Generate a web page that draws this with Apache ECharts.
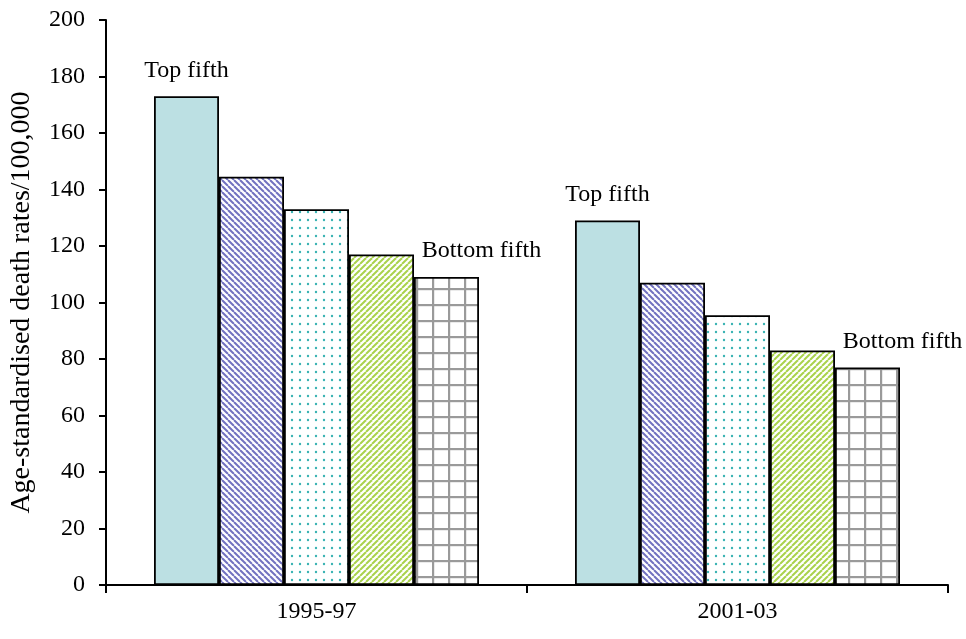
<!DOCTYPE html>
<html>
<head>
<meta charset="utf-8">
<title>Age-standardised death rates by fifth</title>
<script src="https://cdn.jsdelivr.net/npm/echarts@6/dist/echarts.min.js"></script>
<style>
  html, body { margin: 0; padding: 0; background: #ffffff; }
  #chart { width: 966px; height: 639px; }
</style>
</head>
<body>
<div id="chart"></div>
<script>
// Periods on the category axis
const periods = ['1995-97', '2001-03'];

// Death rates per 100,000 for each fifth, one array per fifth
const topFifth    = [173, 129];
const secondFifth = [144.5, 107];
const thirdFifth  = [133, 95.5];
const fourthFifth = [117, 83];
const bottomFifth = [109, 77];

// Value-axis ticks
const yTicks = [0, 20, 40, 60, 80, 100, 120, 140, 160, 180, 200];

const FONT = '"Liberation Serif", "Times New Roman", serif';

// Small tiled canvases used as bar fills
function makeTile(w, h, draw) {
  const c = document.createElement('canvas');
  c.width = w; c.height = h;
  const ctx = c.getContext('2d');
  ctx.fillStyle = '#ffffff';
  ctx.fillRect(0, 0, w, h);
  draw(ctx, w, h);
  return { image: c, repeat: 'repeat' };
}

// Back-slash stripes (top-left to bottom-right)
function backStripes(color, period, lw) {
  return makeTile(period, period, (ctx, w, h) => {
    ctx.strokeStyle = color; ctx.lineWidth = lw;
    for (let k = -1; k <= 1; k++) {
      ctx.beginPath();
      ctx.moveTo(k * w, 0); ctx.lineTo(k * w + w, h);
      ctx.stroke();
    }
  });
}

// Forward-slash stripes (bottom-left to top-right)
function forwardStripes(color, period, lw) {
  return makeTile(period, period, (ctx, w, h) => {
    ctx.strokeStyle = color; ctx.lineWidth = lw;
    for (let k = -1; k <= 1; k++) {
      ctx.beginPath();
      ctx.moveTo(k * w, h); ctx.lineTo(k * w + w, 0);
      ctx.stroke();
    }
  });
}

function dots(color, step, r) {
  return makeTile(step, step, (ctx, w, h) => {
    ctx.fillStyle = color;
    ctx.beginPath();
    ctx.arc(w / 2, h / 2, r, 0, Math.PI * 2);
    ctx.fill();
  });
}

function gridTile(color, step, lw) {
  return makeTile(step, step, (ctx, w, h) => {
    ctx.fillStyle = color;
    ctx.fillRect(0, 0, lw, h);
    ctx.fillRect(0, 0, w, lw);
  });
}

const fills = [
  '#bce0e3',
  backStripes('#7272c0', 6, 2),
  dots('#3ab3b3', 8, 1.2),
  forwardStripes('#a9d24c', 6, 2),
  gridTile('#9a9a9a', 16, 2.2)
];

const seriesData = [topFifth, secondFifth, thirdFifth, fourthFifth, bottomFifth];
const seriesNames = ['Top fifth', 'Second fifth', 'Third fifth', 'Fourth fifth', 'Bottom fifth'];

const chart = echarts.init(document.getElementById('chart'), null, { renderer: 'canvas' });

const series = seriesData.map((vals, i) => {
  const s = {
    name: seriesNames[i],
    type: 'bar',
    data: vals,
    barWidth: 65,
    barGap: '0%',
    itemStyle: {
      color: fills[i],
      borderColor: '#000000',
      borderWidth: 1.8
    },
    emphasis: { disabled: true },
    label: { show: false }
  };
  if (i === 0) {
    s.label = {
      show: true, position: 'top', distance: 14,
      formatter: () => 'Top fifth',
      fontFamily: FONT, fontSize: 24, color: '#000000'
    };
  }
  if (i === seriesData.length - 1) {
    s.label = {
      show: true, position: 'top', distance: 14, offset: [35, 0],
      formatter: () => 'Bottom fifth',
      fontFamily: FONT, fontSize: 24, color: '#000000'
    };
  }
  return s;
});

chart.setOption({
  animation: false,
  backgroundColor: '#ffffff',
  grid: { left: 103, right: 18, top: 20, bottom: 54, containLabel: false },
  xAxis: {
    type: 'category',
    data: periods,
    axisLine: { lineStyle: { color: '#000000', width: 2 } },
    axisTick: { show: true, alignWithLabel: false, length: 8, lineStyle: { color: '#000000', width: 2 } },
    axisLabel: { fontFamily: FONT, fontSize: 24, color: '#000000', margin: 15 },
    splitLine: { show: false }
  },
  yAxis: {
    type: 'value',
    min: yTicks[0],
    max: yTicks[yTicks.length - 1],
    interval: yTicks[1] - yTicks[0],
    name: 'Age-standardised death rates/100,000',
    nameLocation: 'middle',
    nameGap: 70,
    nameTextStyle: { fontFamily: FONT, fontSize: 28, color: '#000000' },
    axisLine: { show: true, lineStyle: { color: '#000000', width: 2 } },
    axisTick: { show: true, inside: false, length: 7, lineStyle: { color: '#000000', width: 2 } },
    axisLabel: { fontFamily: FONT, fontSize: 24, color: '#000000', margin: 21 },
    splitLine: { show: false }
  },
  series: series
});
</script>
</body>
</html>
